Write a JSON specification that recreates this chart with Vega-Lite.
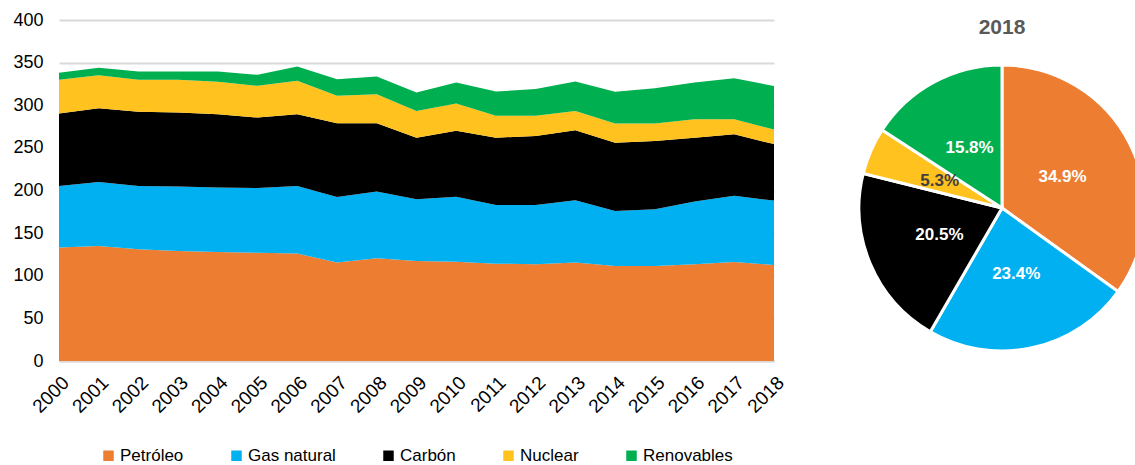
{
  "$schema": "https://vega.github.io/schema/vega-lite/v6.json",
  "padding": {"left": 12, "top": 11, "right": 0, "bottom": 0},
  "background": "white",
  "spacing": 65,
  "config": {
    "view": {"stroke": null},
    "font": "Liberation Sans",
    "legend": {"layout": {"bottom": {"anchor": "middle"}}}
  },
  "resolve": {"legend": {"color": "independent"}},
  "hconcat": [
    {
      "width": 715,
      "height": 341,
      "data": {
        "values": [
          {"anio": "2000", "fuente": "Petróleo", "valor": 133}, {"anio": "2000", "fuente": "Gas natural", "valor": 72.4}, {"anio": "2000", "fuente": "Carbón", "valor": 84.9}, {"anio": "2000", "fuente": "Nuclear", "valor": 39.5}, {"anio": "2000", "fuente": "Renovables", "valor": 8.2},
          {"anio": "2001", "fuente": "Petróleo", "valor": 135}, {"anio": "2001", "fuente": "Gas natural", "valor": 75}, {"anio": "2001", "fuente": "Carbón", "valor": 86.6}, {"anio": "2001", "fuente": "Nuclear", "valor": 38.7}, {"anio": "2001", "fuente": "Renovables", "valor": 8.7},
          {"anio": "2002", "fuente": "Petróleo", "valor": 131}, {"anio": "2002", "fuente": "Gas natural", "valor": 74.4}, {"anio": "2002", "fuente": "Carbón", "valor": 86.9}, {"anio": "2002", "fuente": "Nuclear", "valor": 37.5}, {"anio": "2002", "fuente": "Renovables", "valor": 9.8},
          {"anio": "2003", "fuente": "Petróleo", "valor": 129}, {"anio": "2003", "fuente": "Gas natural", "valor": 75.6}, {"anio": "2003", "fuente": "Carbón", "valor": 86.9}, {"anio": "2003", "fuente": "Nuclear", "valor": 38.3}, {"anio": "2003", "fuente": "Renovables", "valor": 9.8},
          {"anio": "2004", "fuente": "Petróleo", "valor": 128}, {"anio": "2004", "fuente": "Gas natural", "valor": 75.4}, {"anio": "2004", "fuente": "Carbón", "valor": 86.1}, {"anio": "2004", "fuente": "Nuclear", "valor": 38}, {"anio": "2004", "fuente": "Renovables", "valor": 12.1},
          {"anio": "2005", "fuente": "Petróleo", "valor": 127}, {"anio": "2005", "fuente": "Gas natural", "valor": 76}, {"anio": "2005", "fuente": "Carbón", "valor": 82.6}, {"anio": "2005", "fuente": "Nuclear", "valor": 37.2}, {"anio": "2005", "fuente": "Renovables", "valor": 12.9},
          {"anio": "2006", "fuente": "Petróleo", "valor": 126}, {"anio": "2006", "fuente": "Gas natural", "valor": 79.4}, {"anio": "2006", "fuente": "Carbón", "valor": 84.1}, {"anio": "2006", "fuente": "Nuclear", "valor": 39.1}, {"anio": "2006", "fuente": "Renovables", "valor": 16.9},
          {"anio": "2007", "fuente": "Petróleo", "valor": 115.4}, {"anio": "2007", "fuente": "Gas natural", "valor": 77.1}, {"anio": "2007", "fuente": "Carbón", "valor": 86.5}, {"anio": "2007", "fuente": "Nuclear", "valor": 32}, {"anio": "2007", "fuente": "Renovables", "valor": 19.6},
          {"anio": "2008", "fuente": "Petróleo", "valor": 120.5}, {"anio": "2008", "fuente": "Gas natural", "valor": 78.2}, {"anio": "2008", "fuente": "Carbón", "valor": 80.3}, {"anio": "2008", "fuente": "Nuclear", "valor": 34}, {"anio": "2008", "fuente": "Renovables", "valor": 20.7},
          {"anio": "2009", "fuente": "Petróleo", "valor": 117.4}, {"anio": "2009", "fuente": "Gas natural", "valor": 72.4}, {"anio": "2009", "fuente": "Carbón", "valor": 72.2}, {"anio": "2009", "fuente": "Nuclear", "valor": 31.4}, {"anio": "2009", "fuente": "Renovables", "valor": 21.6},
          {"anio": "2010", "fuente": "Petróleo", "valor": 116.5}, {"anio": "2010", "fuente": "Gas natural", "valor": 76.3}, {"anio": "2010", "fuente": "Carbón", "valor": 77.2}, {"anio": "2010", "fuente": "Nuclear", "valor": 32}, {"anio": "2010", "fuente": "Renovables", "valor": 24.7},
          {"anio": "2011", "fuente": "Petróleo", "valor": 114.2}, {"anio": "2011", "fuente": "Gas natural", "valor": 68.8}, {"anio": "2011", "fuente": "Carbón", "valor": 79}, {"anio": "2011", "fuente": "Nuclear", "valor": 25.6}, {"anio": "2011", "fuente": "Renovables", "valor": 28.4},
          {"anio": "2012", "fuente": "Petróleo", "valor": 113.5}, {"anio": "2012", "fuente": "Gas natural", "valor": 69.5}, {"anio": "2012", "fuente": "Carbón", "valor": 81}, {"anio": "2012", "fuente": "Nuclear", "valor": 23.6}, {"anio": "2012", "fuente": "Renovables", "valor": 31.4},
          {"anio": "2013", "fuente": "Petróleo", "valor": 115.4}, {"anio": "2013", "fuente": "Gas natural", "valor": 73.2}, {"anio": "2013", "fuente": "Carbón", "valor": 82.2}, {"anio": "2013", "fuente": "Nuclear", "valor": 22.6}, {"anio": "2013", "fuente": "Renovables", "valor": 34.5},
          {"anio": "2014", "fuente": "Petróleo", "valor": 111.5}, {"anio": "2014", "fuente": "Gas natural", "valor": 64.5}, {"anio": "2014", "fuente": "Carbón", "valor": 80}, {"anio": "2014", "fuente": "Nuclear", "valor": 22.5}, {"anio": "2014", "fuente": "Renovables", "valor": 37.2},
          {"anio": "2015", "fuente": "Petróleo", "valor": 111.5}, {"anio": "2015", "fuente": "Gas natural", "valor": 66.5}, {"anio": "2015", "fuente": "Carbón", "valor": 80}, {"anio": "2015", "fuente": "Nuclear", "valor": 20.7}, {"anio": "2015", "fuente": "Renovables", "valor": 41.3},
          {"anio": "2016", "fuente": "Petróleo", "valor": 113.5}, {"anio": "2016", "fuente": "Gas natural", "valor": 73.5}, {"anio": "2016", "fuente": "Carbón", "valor": 75}, {"anio": "2016", "fuente": "Nuclear", "valor": 21.7}, {"anio": "2016", "fuente": "Renovables", "valor": 43},
          {"anio": "2017", "fuente": "Petróleo", "valor": 116.2}, {"anio": "2017", "fuente": "Gas natural", "valor": 77.5}, {"anio": "2017", "fuente": "Carbón", "valor": 72.3}, {"anio": "2017", "fuente": "Nuclear", "valor": 17.7}, {"anio": "2017", "fuente": "Renovables", "valor": 48.1},
          {"anio": "2018", "fuente": "Petróleo", "valor": 112.7}, {"anio": "2018", "fuente": "Gas natural", "valor": 75.5}, {"anio": "2018", "fuente": "Carbón", "valor": 66.2}, {"anio": "2018", "fuente": "Nuclear", "valor": 17.1}, {"anio": "2018", "fuente": "Renovables", "valor": 51.0}
        ]
      },
      "transform": [
        {
          "lookup": "fuente",
          "from": {
            "data": {"values": [
              {"fuente": "Petróleo", "orden": 1},
              {"fuente": "Gas natural", "orden": 2},
              {"fuente": "Carbón", "orden": 3},
              {"fuente": "Nuclear", "orden": 4},
              {"fuente": "Renovables", "orden": 5}
            ]},
            "key": "fuente",
            "fields": ["orden"]
          }
        }
      ],
      "mark": {"type": "area", "interpolate": "linear"},
      "encoding": {
        "x": {
          "field": "anio", "type": "ordinal", "title": null,
          "scale": {"type": "point", "padding": 0},
          "axis": {"labelAngle": -45, "labelFontSize": 19, "labelColor": "#000000", "ticks": false, "domainColor": "#d9d9d9", "domainWidth": 2, "labelPadding": 12, "labelAlign": "right", "labelBaseline": "top"}
        },
        "y": {
          "field": "valor", "type": "quantitative", "stack": "zero", "title": null,
          "scale": {"domain": [0, 400]},
          "axis": {"values": [0, 50, 100, 150, 200, 250, 300, 350, 400], "labelFontSize": 18, "labelColor": "#000000", "ticks": false, "domain": false, "gridColor": "#d9d9d9", "gridWidth": 2, "labelPadding": 16}
        },
        "order": {"field": "orden", "type": "quantitative", "sort": "ascending"},
        "color": {
          "field": "fuente", "type": "nominal",
          "sort": ["Petróleo", "Gas natural", "Carbón", "Nuclear", "Renovables"],
          "scale": {"domain": ["Petróleo", "Gas natural", "Carbón", "Nuclear", "Renovables"], "range": ["#ED7D31", "#00B0F0", "#000000", "#FFC21E", "#00B050"]},
          "legend": {"orient": "bottom", "direction": "horizontal", "title": null, "symbolType": "square", "symbolSize": 110, "symbolStrokeWidth": 0, "labelFontSize": 17, "labelColor": "#000000", "columnPadding": 44, "labelOffset": 3, "offset": 30}
        }
      }
    },
    {
      "width": 286,
      "height": 376,
      "title": {"text": "2018", "fontSize": 21, "fontWeight": "bold", "color": "#595959", "offset": -18, "anchor": "middle"},
      "data": {
        "values": [
          {"fuente": "Petróleo", "orden": 1, "pct": 0.349},
          {"fuente": "Gas natural", "orden": 2, "pct": 0.234},
          {"fuente": "Carbón", "orden": 3, "pct": 0.205},
          {"fuente": "Nuclear", "orden": 4, "pct": 0.053},
          {"fuente": "Renovables", "orden": 5, "pct": 0.158}
        ]
      },
      "encoding": {
        "theta": {"field": "pct", "type": "quantitative", "stack": true},
        "order": {"field": "orden", "type": "quantitative"},
        "color": {
          "field": "fuente", "type": "nominal",
          "sort": ["Petróleo", "Gas natural", "Carbón", "Nuclear", "Renovables"],
          "scale": {"domain": ["Petróleo", "Gas natural", "Carbón", "Nuclear", "Renovables"], "range": ["#ED7D31", "#00B0F0", "#000000", "#FFC21E", "#00B050"]},
          "legend": null
        }
      },
      "layer": [
        {"mark": {"type": "arc", "outerRadius": 143, "stroke": "white", "strokeWidth": 3}},
        {
          "mark": {"type": "text", "radius": 68, "fontSize": 17, "fontWeight": "bold"},
          "encoding": {
            "text": {"field": "pct", "type": "quantitative", "format": ".1%"},
            "color": {"condition": {"test": "datum.fuente === 'Nuclear'", "value": "#404040"}, "value": "white"}
          }
        }
      ]
    }
  ]
}
